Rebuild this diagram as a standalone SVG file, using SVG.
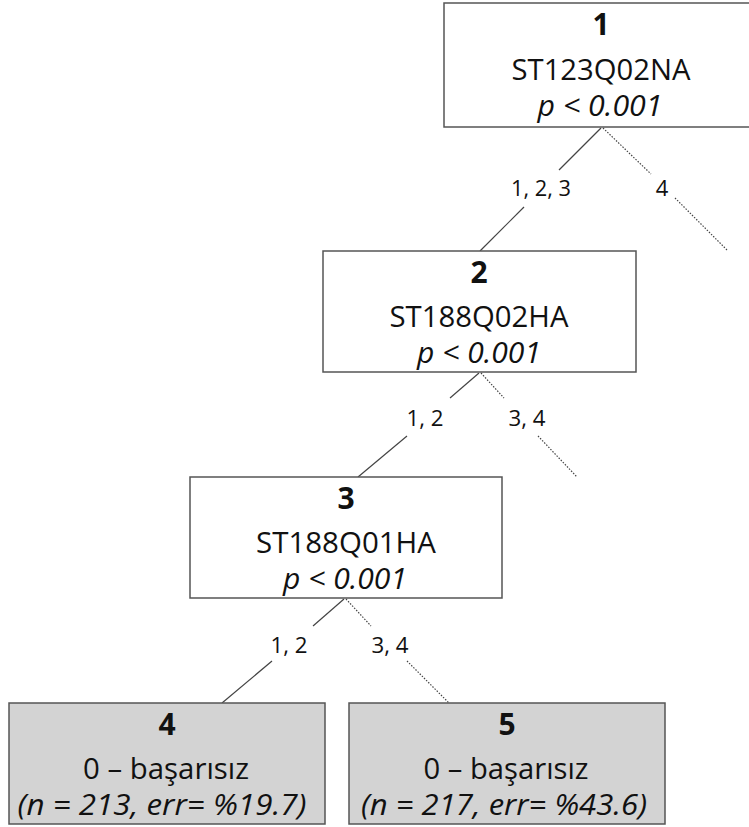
<svg xmlns="http://www.w3.org/2000/svg" width="749" height="827" viewBox="0 0 749 827">
  <style>
    .box { fill: #ffffff; stroke: #555555; stroke-width: 1.5; }
    .leaf { fill: #d3d3d3; stroke: #555555; stroke-width: 1.5; }
    .t { font-family: "Open Sans", "Noto Sans", sans-serif; font-size: 30px; fill: #111111; text-anchor: middle; }
    .id { font-weight: bold; }
    .it { font-style: italic; }
    .lbl { font-family: "Open Sans", "Noto Sans", sans-serif; font-size: 22px; fill: #111111; text-anchor: middle; }
    .solid { stroke: #444444; stroke-width: 1.2; fill: none; }
    .dot { stroke: #444444; stroke-width: 1.2; fill: none; stroke-dasharray: 1.5 1.5; }
  </style>

  <g id="connectors">
    <!-- node 1 -> node 2 / right branch -->
    <line class="solid" x1="601" y1="128" x2="559" y2="170"/>
    <line class="solid" x1="524" y1="207" x2="480" y2="251"/>
    <text class="lbl" x="541" y="196" textLength="60" lengthAdjust="spacingAndGlyphs">1, 2, 3</text>
    <line class="dot" x1="603" y1="128" x2="651" y2="174"/>
    <line class="dot" x1="675" y1="198" x2="727" y2="250"/>
    <text class="lbl" x="662" y="196">4</text>

    <!-- node 2 -> node 3 / right branch -->
    <line class="solid" x1="479" y1="373" x2="450" y2="398"/>
    <line class="solid" x1="407" y1="436" x2="358" y2="477"/>
    <text class="lbl" x="425" y="426" textLength="37" lengthAdjust="spacingAndGlyphs">1, 2</text>
    <line class="dot" x1="481" y1="373" x2="504" y2="398"/>
    <line class="dot" x1="538" y1="436" x2="577" y2="477"/>
    <text class="lbl" x="527" y="426" textLength="37" lengthAdjust="spacingAndGlyphs">3, 4</text>

    <!-- node 3 -> leaves -->
    <line class="solid" x1="344" y1="599" x2="313" y2="626"/>
    <line class="solid" x1="272" y1="661" x2="222" y2="703"/>
    <text class="lbl" x="289" y="653" textLength="37" lengthAdjust="spacingAndGlyphs">1, 2</text>
    <line class="dot" x1="346" y1="599" x2="371" y2="626"/>
    <line class="dot" x1="407" y1="661" x2="449" y2="703"/>
    <text class="lbl" x="390" y="653" textLength="37" lengthAdjust="spacingAndGlyphs">3, 4</text>
  </g>

  <g id="node1">
    <rect class="box" x="444" y="3" width="314" height="124"/>
    <text class="t id" x="601" y="35">1</text>
    <text class="t" x="601" y="80" textLength="179" lengthAdjust="spacingAndGlyphs">ST123Q02NA</text>
    <text class="t it" x="600" y="116" textLength="125" lengthAdjust="spacingAndGlyphs">p &lt; 0.001</text>
  </g>

  <g id="node2">
    <rect class="box" x="323" y="251" width="313" height="121"/>
    <text class="t id" x="479" y="283">2</text>
    <text class="t" x="479" y="327" textLength="179" lengthAdjust="spacingAndGlyphs">ST188Q02HA</text>
    <text class="t it" x="479" y="363" textLength="124" lengthAdjust="spacingAndGlyphs">p &lt; 0.001</text>
  </g>

  <g id="node3">
    <rect class="box" x="190" y="477" width="312" height="121"/>
    <text class="t id" x="346" y="509">3</text>
    <text class="t" x="346" y="553" textLength="180" lengthAdjust="spacingAndGlyphs">ST188Q01HA</text>
    <text class="t it" x="345" y="589" textLength="124" lengthAdjust="spacingAndGlyphs">p &lt; 0.001</text>
  </g>

  <g id="node4">
    <rect class="leaf" x="9" y="703" width="316" height="121"/>
    <text class="t id" x="167" y="735">4</text>
    <text class="t" x="166" y="779" textLength="166" lengthAdjust="spacingAndGlyphs">0 – başarısız</text>
    <text class="t it" x="162" y="815" textLength="289" lengthAdjust="spacingAndGlyphs">(n = 213, err= %19.7)</text>
  </g>

  <g id="node5">
    <rect class="leaf" x="349" y="703" width="316" height="121"/>
    <text class="t id" x="507" y="735">5</text>
    <text class="t" x="506" y="779" textLength="165" lengthAdjust="spacingAndGlyphs">0 – başarısız</text>
    <text class="t it" x="504" y="815" textLength="286" lengthAdjust="spacingAndGlyphs">(n = 217, err= %43.6)</text>
  </g>
</svg>
